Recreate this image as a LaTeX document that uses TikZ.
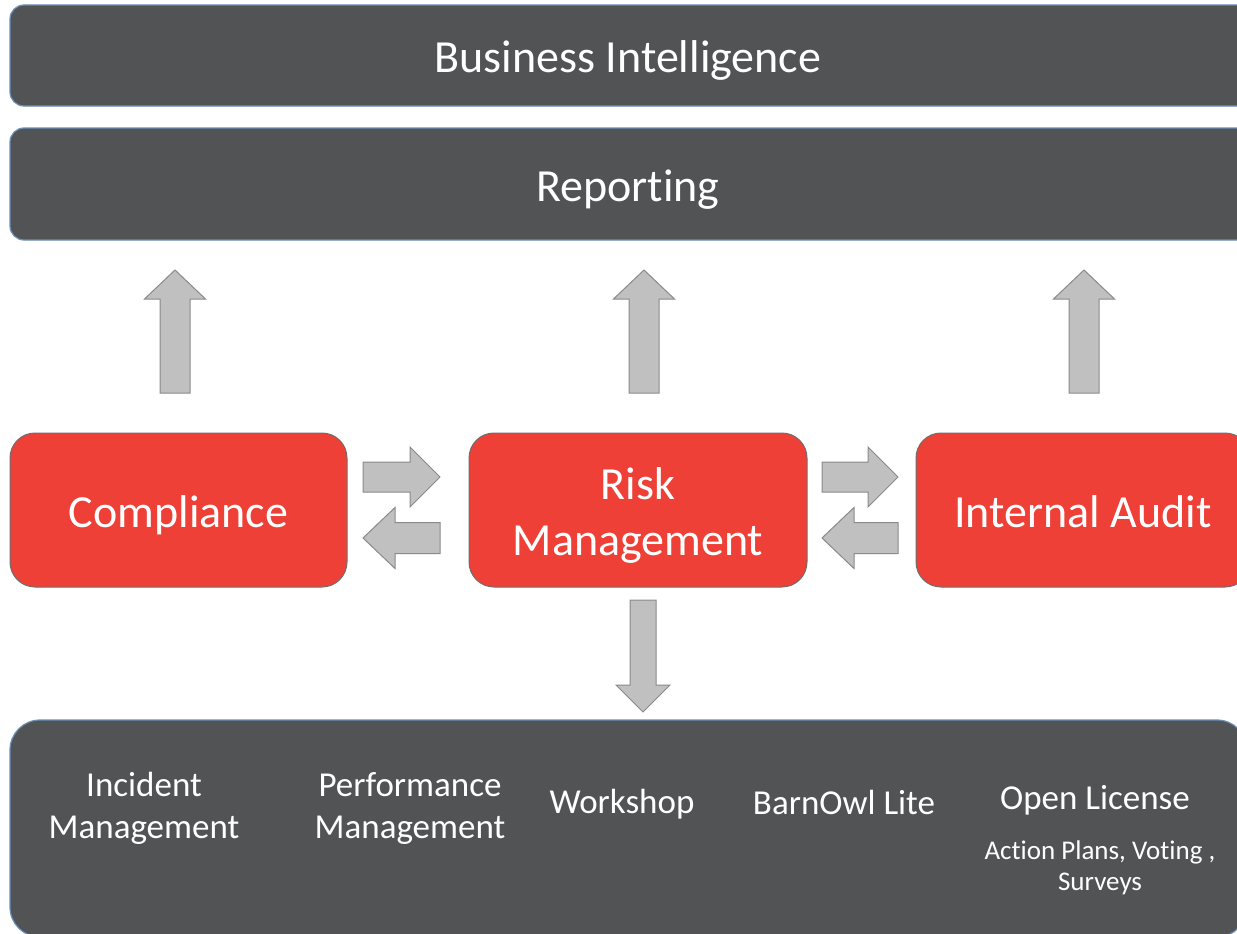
\documentclass[tikz,border=0pt]{standalone}
\usepackage{fontspec}
\setmainfont{Carlito}[Ligatures=NoCommon]
\definecolor{darkbox}{HTML}{525355}
\definecolor{darkedge}{HTML}{6A8FB8}
\definecolor{redbox}{HTML}{EE4036}
\definecolor{rededge}{HTML}{6E6E6E}
\definecolor{arrfill}{HTML}{C0C0C0}
\definecolor{arredge}{HTML}{8A8A8A}
\tikzset{
  bar/.style={draw=darkedge, line width=1.2pt, fill=darkbox, rounded corners=14pt,
    inner sep=0pt, text=white, text height=42pt, text depth=7pt,
    font=\fontsize{46}{50}\selectfont},
  redbox/.style={draw=rededge, line width=1pt, fill=redbox, rounded corners=25pt,
    inner sep=0pt, text=white, align=center, minimum width=337pt, minimum height=154pt,
    text height=42pt, text depth=7pt, font=\fontsize{46}{56}\selectfont},
  basebox/.style={draw=darkedge, line width=1.2pt, fill=darkbox, rounded corners=30pt, inner sep=0pt},
  item/.style={text=white, align=center, inner sep=0pt, font=\fontsize{35}{42}\selectfont},
  smallitem/.style={text=white, align=center, inner sep=0pt, font=\fontsize{27}{31}\selectfont},
  blockarrow/.style={draw=arredge, line width=1pt, fill=arrfill, line join=miter}
}
\begin{document}
\begin{tikzpicture}[x=1pt,y=-1pt]
\useasboundingbox (0,0) rectangle (1237,934);
\clip (0,0) rectangle (1237,934);

% top bars
\node[bar, minimum width=1250pt, minimum height=101pt] (bi) at (635,55.5) {\hspace*{-14pt}Business Intelligence};
\node[bar, minimum width=1250pt, minimum height=112pt] (rep) at (635,184) {\hspace*{-14pt}Reporting};

% up arrows
\foreach \cx in {175,644,1084}{
  \draw[blockarrow] ({\cx-15},393) -- ({\cx-15},299) -- ({\cx-30.5},299) -- (\cx,270)
     -- ({\cx+30.5},299) -- ({\cx+15},299) -- ({\cx+15},393) -- cycle;
}

% red boxes
\node[redbox] (comp) at (178.5,510) {Compliance};
\node[redbox, minimum width=338pt, text height=98pt, text depth=8pt] (risk) at (638,510) {Risk\\Management};
\node[redbox, minimum width=334pt] (audit) at (1083,510) {Internal Audit};

% horizontal arrows
\foreach \a/\h/\t in {363/410/440, 822/868/898}{
  \draw[blockarrow] (\a,462) -- (\h,462) -- (\h,447) -- (\t,477) -- (\h,507) -- (\h,492) -- (\a,492) -- cycle;
}
\foreach \t/\h/\e in {363/395/440, 822/854/898}{
  \draw[blockarrow] (\e,522.5) -- (\h,522.5) -- (\h,507.5) -- (\t,538) -- (\h,568.5) -- (\h,553.5) -- (\e,553.5) -- cycle;
}

% down arrow
\draw[blockarrow] (630,600) -- (630,685) -- (616,685) -- (643,712) -- (670,685) -- (656,685) -- (656,600) -- cycle;

% bottom box
\node[basebox, minimum width=1237pt, minimum height=217pt] (base) at (628.5,828.5) {};
\node[item] (inc) at (144,808.5) {Incident\\Management};
\node[item] (perf) at (410,808.5) {Performance\\Management};
\node[item] (work) at (622,804) {Workshop};
\node[item] (barn) at (844,802) {BarnOwl Lite};
\node[item] (open) at (1095,800) {Open License};
\node[smallitem] (plans) at (1100,868) {Action Plans, Voting ,\\Surveys};
\end{tikzpicture}
\end{document}
